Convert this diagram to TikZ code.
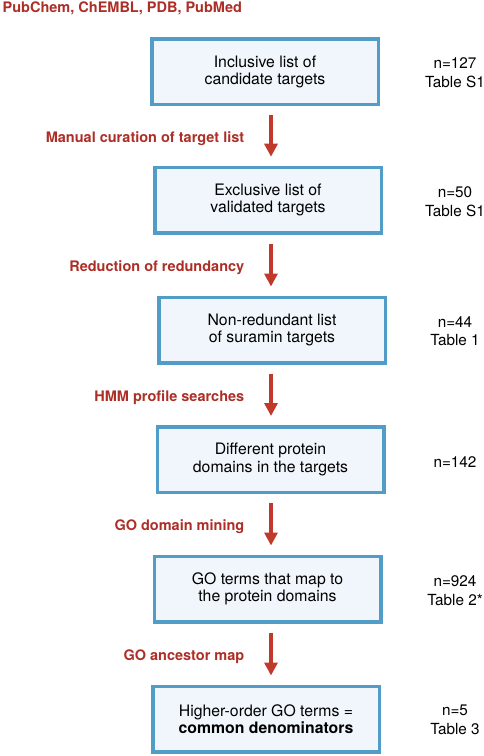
\documentclass[tikz,border=0pt]{standalone}
\usepackage{fontspec}
\setmainfont{TeX Gyre Heros}
\usetikzlibrary{arrows.meta}
\definecolor{boxblue}{RGB}{82,156,200}
\definecolor{boxfill}{RGB}{240,246,252}
\definecolor{arrowred}{RGB}{192,57,43}
\definecolor{labelred}{RGB}{172,46,38}
\begin{document}
\begin{tikzpicture}[x=1pt,y=-1pt,
  stepbox/.style={draw=boxblue, line width=3.5pt, fill=boxfill, align=center,
    font=\fontsize{15.8}{17.2}\selectfont, inner sep=0pt, minimum width=226.5pt, minimum height=65.5pt},
  flow/.style={draw=arrowred, line width=4.5pt, -{Triangle[width=13pt,length=13pt]},
    shorten <=9pt, shorten >=9pt},
  steplabel/.style={anchor=base east, inner sep=0pt, text=labelred, xshift=-24.5pt, yshift=-6.5pt,
    font=\fontsize{14.5}{17}\selectfont\bfseries},
  count/.style={align=center, anchor=center, font=\fontsize{15.3}{18.5}\selectfont}]
\useasboundingbox (0,0) rectangle (484,756);
\node[anchor=base west, inner sep=0pt, text=labelred, font=\fontsize{14.5}{17}\selectfont\bfseries] (src) at (2.5,12.7) {PubChem, ChEMBL, PDB, PubMed};
\node[stepbox] (b1) at (265,71.8) {Inclusive list of\\candidate targets};
\node[stepbox] (b2) at (268,200.2) {Exclusive list of\\validated targets};
\node[stepbox] (b3) at (272,330) {Non-redundant list\\of suramin targets};
\node[stepbox] (b4) at (270.5,459.5) {Different protein\\domains in the targets};
\node[stepbox] (b5) at (267.5,589) {GO terms that map to\\the protein domains};
\node[stepbox] (b6) at (266,719) {Higher-order GO terms =\\\textbf{common denominators}};
\coordinate (ax) at (271,0);
\draw[flow] (b1.south -| ax) -- (b2.north -| ax) node[midway, steplabel] (l1) {Manual curation of target list};
\draw[flow] (b2.south -| ax) -- (b3.north -| ax) node[midway, steplabel] (l2) {Reduction of redundancy};
\draw[flow] (b3.south -| ax) -- (b4.north -| ax) node[midway, steplabel] (l3) {HMM profile searches};
\draw[flow] (b4.south -| ax) -- (b5.north -| ax) node[midway, steplabel] (l4) {GO domain mining};
\draw[flow] (b5.south -| ax) -- (b6.north -| ax) node[midway, steplabel] (l5) {GO ancestor map};
\node[count] (c1) at (455,72.5) {n=127\\Table S1};
\node[count] (c2) at (455,201.5) {n=50\\Table S1};
\node[count] (c3) at (455,331) {n=44\\Table 1};
\node[count] (c4) at (455,462) {n=142};
\node[count] (c5) at (455,590.5) {n=924\\Table 2*};
\node[count] (c6) at (455,720) {n=5\\Table 3};
\end{tikzpicture}
\end{document}
